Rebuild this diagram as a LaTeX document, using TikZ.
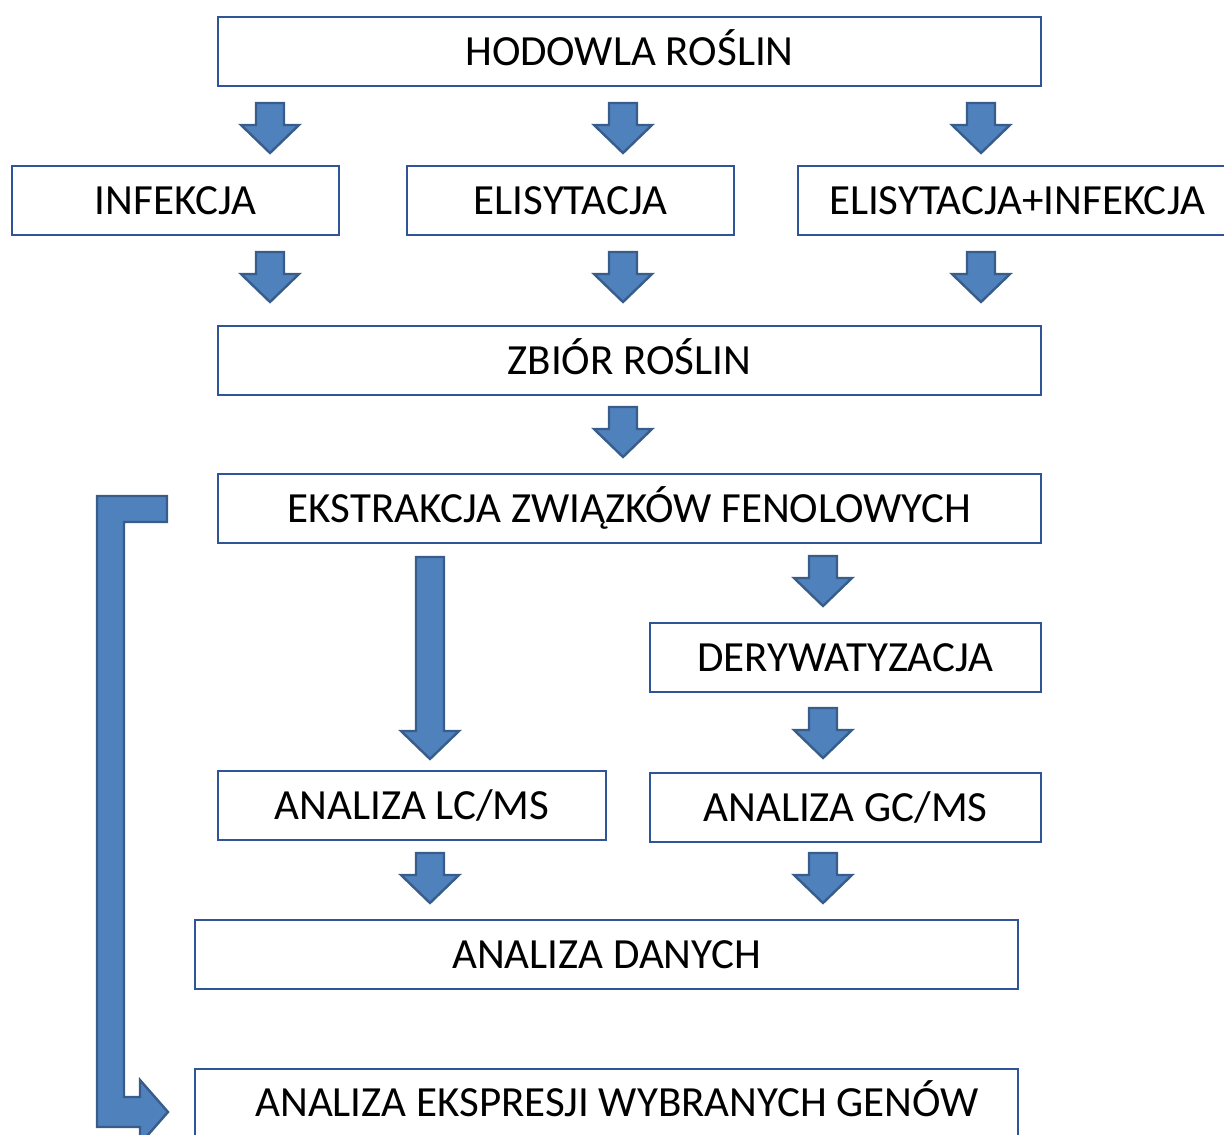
\documentclass[tikz,border=0pt]{standalone}
\usepackage{fontspec}
\setmainfont{Carlito}
\definecolor{afill}{HTML}{4F81BD}
\definecolor{aline}{HTML}{385D8A}
\definecolor{bline}{HTML}{2F5597}
\newcommand\blockdown[3]{%
  \filldraw[blockarrow] ({#1-14},{#2}) -- ({#1+14},{#2}) -- ({#1+14},{#3-28}) -- ({#1+29},{#3-28}) -- ({#1},{#3}) -- ({#1-29},{#3-28}) -- ({#1-14},{#3-28}) -- cycle;}
\begin{document}
\begin{tikzpicture}[x=1pt,y=-1pt,
  box/.style={draw=bline,line width=1.6pt,fill=white,inner sep=0pt,text height=28pt,text depth=0pt,font=\fontsize{43}{50}\selectfont},
  blockarrow/.style={fill=afill,draw=aline,line width=2.4pt,line join=miter}]
\useasboundingbox (0,0) rectangle (1224,1135);
% boxes
\node[box,minimum width=823pt,minimum height=69pt] (hod) at (629.5,51.5) {HODOWLA ROŚLIN};
\node[box,minimum width=327pt,minimum height=69pt] (inf) at (175.5,200.5) {INFEKCJA};
\node[box,minimum width=327pt,minimum height=69pt] (eli) at (570.5,200.5) {ELISYTACJA};
\node[box,minimum width=438pt,minimum height=69pt] (elinf) at (1017,200.5) {ELISYTACJA+INFEKCJA};
\node[box,minimum width=823pt,minimum height=69pt] (zb) at (629.5,360.5) {ZBIÓR ROŚLIN};
\node[box,minimum width=823pt,minimum height=69pt] (ekst) at (629.5,508.5) {EKSTRAKCJA ZWIĄZKÓW FENOLOWYCH};
\node[box,minimum width=391pt,minimum height=69pt] (der) at (845.5,657.5) {DERYWATYZACJA};
\node[box,minimum width=388pt,minimum height=69pt] (lc) at (412,805.5) {ANALIZA LC/MS};
\node[box,minimum width=391pt,minimum height=69pt] (gc) at (845.5,807.5) {ANALIZA GC/MS};
\node[box,minimum width=823pt,minimum height=69pt] (dan) at (606.5,954.5) {ANALIZA DANYCH};
\node[box,minimum width=823pt,minimum height=69pt,anchor=north] (eksp) at (606.5,1068) {};
\node[font=\fontsize{43}{50}\selectfont,inner sep=0pt,text height=28pt,text depth=0pt] (eksptxt) at (617,1102) {ANALIZA EKSPRESJI\ WYBRANYCH GENÓW};
% block arrows
\blockdown{270}{103}{153}
\blockdown{623}{103}{153}
\blockdown{981}{103}{153}
\blockdown{270}{252}{302}
\blockdown{623}{252}{302}
\blockdown{981}{252}{302}
\blockdown{623}{407}{457}
\blockdown{430}{557}{759}
\blockdown{823}{556}{606}
\blockdown{823}{708}{758}
\blockdown{430}{853}{903}
\blockdown{823}{853}{903}
% bent arrow
\filldraw[blockarrow] (97,496) -- (167,496) -- (167,522) -- (124,522) -- (124,1097) -- (140,1097) -- (140,1080) -- (168,1112) -- (140,1144) -- (140,1127) -- (97,1127) -- cycle;
\end{tikzpicture}
\end{document}
